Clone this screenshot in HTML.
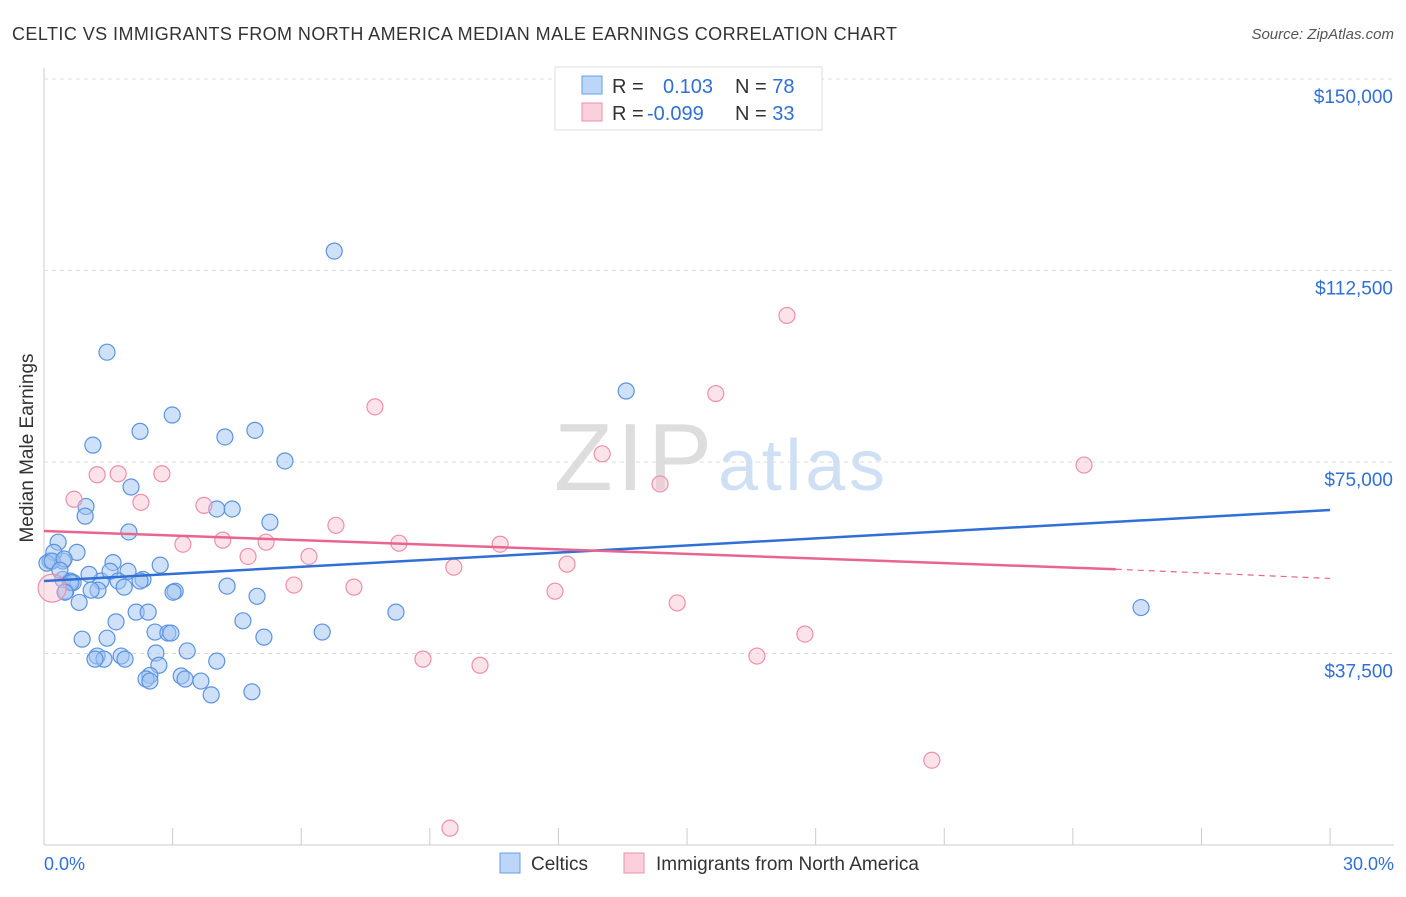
<!DOCTYPE html>
<html><head><meta charset="utf-8"><style>
body{margin:0;background:#fff;font-family:"Liberation Sans",sans-serif}
svg text{font-family:"Liberation Sans",sans-serif}
</style></head><body>
<svg width="1406" height="892" id="chart">
<text x="12" y="40" font-size="18" fill="#333" textLength="885">CELTIC VS IMMIGRANTS FROM NORTH AMERICA MEDIAN MALE EARNINGS CORRELATION CHART</text>
<text x="1394" y="39" font-size="15" fill="#555" font-style="italic" text-anchor="end">Source: ZipAtlas.com</text>
<text x="40" y="455" font-size="19" fill="#333" transform="rotate(-90 33 455)" text-anchor="middle">Median Male Earnings</text>
<text x="712" y="490" font-size="96" fill="#ddd" text-anchor="end" font-family="Liberation Serif" textLength="158">ZIP</text>
<text x="718" y="490" font-size="72" fill="#cfe0f5" textLength="167">atlas</text>
<g id="grid"></g><g id="pts"></g><g id="lines"></g>
<rect x="555" y="67" width="267" height="63" fill="#fff" stroke="#ddd"/>
<rect x="582" y="76" width="20" height="18" fill="#bcd6f7" stroke="#6a9ee6"/>
<rect x="582" y="103" width="20" height="18" fill="#fbd0dc" stroke="#ee8faa"/>
<text x="612" y="93" font-size="20" fill="#333">R = <tspan x="663" fill="#2f6fd6">0.103</tspan><tspan x="735" fill="#333">N = </tspan><tspan fill="#2f6fd6">78</tspan></text>
<text x="612" y="120" font-size="20" fill="#333">R = <tspan x="647" fill="#2f6fd6">-0.099</tspan><tspan x="735" fill="#333">N = </tspan><tspan fill="#2f6fd6">33</tspan></text>
<rect x="500" y="853" width="20" height="20" fill="#bcd6f7" stroke="#6a9ee6"/>
<text x="531" y="870" font-size="19" fill="#333">Celtics</text>
<rect x="624" y="853" width="20" height="20" fill="#fbd0dc" stroke="#ee8faa"/>
<text x="656" y="870" font-size="19" fill="#333">Immigrants from North America</text>
<text x="44" y="870" font-size="18" fill="#2f6fd6">0.0%</text>
<text x="1394" y="870" font-size="18" fill="#2f6fd6" text-anchor="end">30.0%</text>
</svg>
<script>
const yTicks=[150000,112500,75000,37500];
const yTickLabels=["$150,000","$112,500","$75,000","$37,500"];
const blueX=[6.77,1.47,13.58,2.99,2.24,4.92,4.22,1.14,5.62,2.03,0.98,0.96,4.03,4.39,5.27,1.98,0.33,0.77,1.61,2.71,0.14,0.44,0.23,0.61,0.51,1.33,1.05,1.54,1.96,2.31,1.73,1.87,2.24,1.26,1.10,3.06,3.01,4.27,4.97,0.82,2.15,2.43,8.21,25.59,4.64,1.68,0.89,1.47,2.59,2.89,2.96,5.13,6.49,3.34,2.61,1.24,1.40,1.80,1.89,1.19,4.03,2.68,2.47,2.38,2.47,3.20,3.29,3.66,3.90,4.85,0.44,0.68,0.07,0.19,0.47,0.63,0.49,0.37];
const blueY=[116300,96500,88900,84200,81000,81200,79900,78300,75200,70100,66300,64400,65800,65800,63200,61300,59300,57300,55300,54800,55600,55600,57300,51700,49700,51700,53000,53600,53600,52000,51700,50500,51700,49900,49900,49700,49500,50700,48700,47500,45600,45600,45600,46500,43900,43700,40300,40500,41700,41500,41500,40700,41700,38000,37600,37000,36400,37000,36400,36400,36000,35200,33200,32500,32100,33100,32500,32100,29400,30000,52000,51400,55200,55600,56000,51400,49500,53800];
const pinkX=[17.33,7.72,15.67,13.02,24.26,1.24,1.73,2.75,14.37,0.70,2.26,3.73,6.81,3.24,4.17,5.18,8.28,10.64,4.76,6.18,12.2,9.56,5.83,7.23,11.92,14.77,17.75,8.84,10.17,16.63,20.71,9.47,0.19];
const pinkY=[103700,85800,88400,76600,74400,72500,72700,72700,70700,67700,67100,66500,62600,58900,59700,59300,59100,58900,56500,56500,55000,54400,50900,50500,49700,47400,41300,36400,35200,37000,16600,3300,50300];
const blueLine=[0,51700,30,65600];
const pinkLine=[0,61500,25,54000,30,52200];
const X=p=>44+p*42.87, Y=v=>845-v*191.5/37500;
const ns="http://www.w3.org/2000/svg";
function mk(t,a,parent){const e=document.createElementNS(ns,t);for(const k in a)e.setAttribute(k,a[k]);document.getElementById(parent).appendChild(e);return e;}
const ax=mk('line',{x1:44,x2:44,y1:68,y2:845,stroke:'#ccc'},'grid');


const bx=mk('line',{x1:44,x2:1394,y1:845,y2:845,stroke:'#ccc'},'grid');


yTicks.forEach((v,i)=>{
 const g=mk('line',{x1:44,x2:1394,y1:Y(v),y2:Y(v),stroke:'#ddd','stroke-dasharray':'4 4'},'grid');
 
 
 const t=mk('text',{x:1393,y:Y(v)+24,'font-size':19,fill:'#2f6fd6','text-anchor':'end'},'grid');
 t.textContent=yTickLabels[i];
 
 
});
for(let i=1;i<=10;i++){const t=mk('line',{x1:X(i*3),x2:X(i*3),y1:828,y2:845,stroke:'#ccc'},'grid');
 
 }
blueX.forEach((x,i)=>{const c=mk('circle',{cx:X(x),cy:Y(blueY[i]),r:8,fill:'rgba(160,196,242,0.5)',stroke:'#5b93e0','stroke-width':1.2},'pts');
 
 });
pinkX.forEach((x,i)=>{const c=mk('circle',{cx:X(x),cy:Y(pinkY[i]),r:i==pinkX.length-1?14:8,fill:'rgba(249,190,206,0.45)',stroke:'#ee8faa','stroke-width':1.2},'pts');
 
 });
const bl=mk('line',{x1:X(blueLine[0]),y1:Y(blueLine[1]),x2:X(blueLine[2]),y2:Y(blueLine[3]),stroke:'#2f6fd6','stroke-width':2.5},'lines');


const pl=mk('line',{x1:X(pinkLine[0]),y1:Y(pinkLine[1]),x2:X(pinkLine[2]),y2:Y(pinkLine[3]),stroke:'#e8658f','stroke-width':2.5},'lines');


const pd=mk('line',{x1:X(pinkLine[2]),y1:Y(pinkLine[3]),x2:X(pinkLine[4]),y2:Y(pinkLine[5]),stroke:'#e8658f','stroke-width':1.2,'stroke-dasharray':'6 5'},'lines');


</script>
</body></html>
